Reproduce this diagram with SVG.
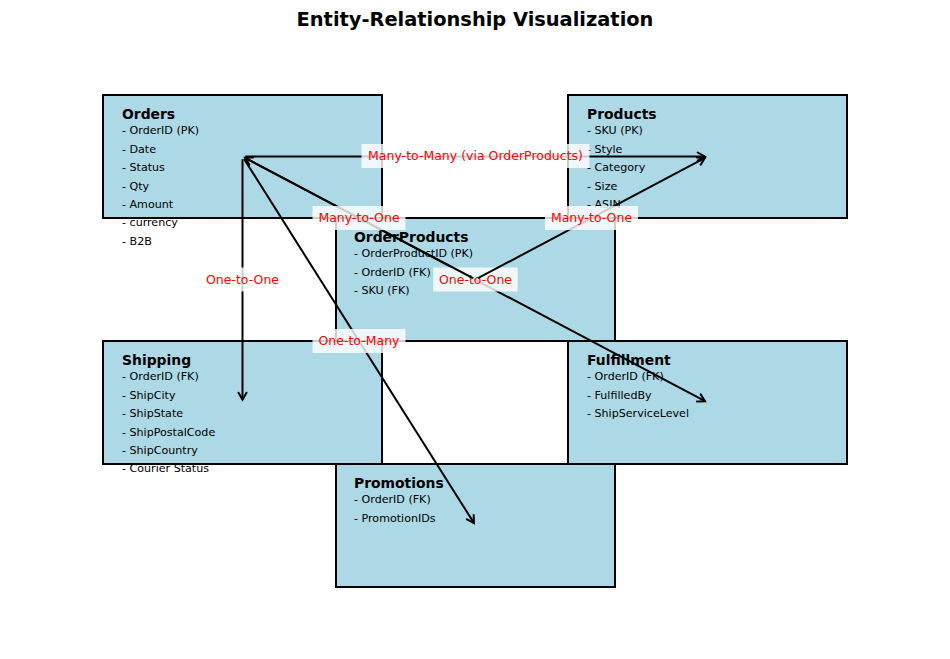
<svg xmlns="http://www.w3.org/2000/svg" width="950" height="659" viewBox="0 0 950 659">
<defs>
<marker id="arr" markerUnits="userSpaceOnUse" markerWidth="12" markerHeight="12" refX="10" refY="6" orient="auto" overflow="visible">
<path d="M3,2 L10,6 L3,10" fill="none" stroke="#000" stroke-width="2" stroke-linecap="round" stroke-linejoin="miter"/>
</marker>
<style>
.box{fill:#ADD8E6;stroke:#000;stroke-width:2}
.name{font-family:"DejaVu Sans","Liberation Sans",sans-serif;font-weight:bold;font-size:13.9px;fill:#000}
.attr{font-family:"DejaVu Sans","Liberation Sans",sans-serif;font-size:11.1px;fill:#000}
.title{font-family:"DejaVu Sans","Liberation Sans",sans-serif;font-weight:bold;font-size:19.4px;fill:#000}
.edge{stroke:#000;stroke-width:2;fill:none;marker-end:url(#arr)}
.lbox{fill:#fff;fill-opacity:0.8;stroke:none}
.lbl{font-family:"DejaVu Sans","Liberation Sans",sans-serif;font-size:12.5px;fill:#ff0000;text-anchor:middle}
</style>
</defs>
<rect width="950" height="659" fill="#fff"/>
<text class="title" x="475" y="26" text-anchor="middle">Entity-Relationship Visualization</text>

<g id="orders">
<rect class="box" x="103" y="95" width="279" height="123"/>
<text class="name" x="122" y="118.5">Orders</text>
<text class="attr" x="122" y="134.3">- OrderID (PK)</text>
<text class="attr" x="122" y="152.7">- Date</text>
<text class="attr" x="122" y="171.1">- Status</text>
<text class="attr" x="122" y="189.5">- Qty</text>
<text class="attr" x="122" y="207.9">- Amount</text>
<text class="attr" x="122" y="226.3">- currency</text>
<text class="attr" x="122" y="244.7">- B2B</text>
</g>

<g id="products">
<rect class="box" x="568" y="95" width="279" height="123"/>
<text class="name" x="587" y="118.5">Products</text>
<text class="attr" x="587" y="134.3">- SKU (PK)</text>
<text class="attr" x="587" y="152.7">- Style</text>
<text class="attr" x="587" y="171.1">- Category</text>
<text class="attr" x="587" y="189.5">- Size</text>
<text class="attr" x="587" y="207.9">- ASIN</text>
</g>

<g id="orderproducts">
<rect class="box" x="336" y="218" width="279" height="123"/>
<text class="name" x="354" y="241.5">OrderProducts</text>
<text class="attr" x="354" y="257.3">- OrderProductID (PK)</text>
<text class="attr" x="354" y="275.7">- OrderID (FK)</text>
<text class="attr" x="354" y="294.1">- SKU (FK)</text>
</g>

<g id="shipping">
<rect class="box" x="103" y="341" width="279" height="123"/>
<text class="name" x="122" y="364.5">Shipping</text>
<text class="attr" x="122" y="380.3">- OrderID (FK)</text>
<text class="attr" x="122" y="398.7">- ShipCity</text>
<text class="attr" x="122" y="417.1">- ShipState</text>
<text class="attr" x="122" y="435.5">- ShipPostalCode</text>
<text class="attr" x="122" y="453.9">- ShipCountry</text>
<text class="attr" x="122" y="472.3">- Courier Status</text>
</g>

<g id="fulfillment">
<rect class="box" x="568" y="341" width="279" height="123"/>
<text class="name" x="587" y="364.5">Fulfillment</text>
<text class="attr" x="587" y="380.3">- OrderID (FK)</text>
<text class="attr" x="587" y="398.7">- FulfilledBy</text>
<text class="attr" x="587" y="417.1">- ShipServiceLevel</text>
</g>

<g id="promotions">
<rect class="box" x="336" y="464" width="279" height="123"/>
<text class="name" x="354" y="487.5">Promotions</text>
<text class="attr" x="354" y="503.3">- OrderID (FK)</text>
<text class="attr" x="354" y="521.7">- PromotionIDs</text>
</g>

<g id="connectors">
<g id="e-orders-products">
<line class="edge" x1="245.3" y1="156.5" x2="704.7" y2="156.5"/>
<rect class="lbox" x="361.5" y="144" width="228" height="24"/>
<text class="lbl" x="475.5" y="160">Many-to-Many (via OrderProducts)</text>
</g>
<g id="e-orders-shipping">
<line class="edge" x1="242.5" y1="159.3" x2="242.5" y2="399.7"/>
<rect class="lbox" x="200.3" y="267.5" width="84.5" height="24"/>
<text class="lbl" x="242.5" y="283.5">One-to-One</text>
</g>
<g id="e-orders-fulfillment">
<line class="edge" x1="245" y1="157.8" x2="705" y2="401.2"/>
<rect class="lbox" x="433.2" y="267.5" width="84.5" height="24"/>
<text class="lbl" x="475.5" y="283.5">One-to-One</text>
</g>
<g id="e-orders-promotions">
<line class="edge" x1="244" y1="158.9" x2="474" y2="523.1"/>
<rect class="lbox" x="312.5" y="329" width="93" height="24"/>
<text class="lbl" x="359" y="345">One-to-Many</text>
</g>
<g id="e-orderproducts-orders">
<line class="edge" x1="473" y1="278.2" x2="245" y2="157.8"/>
<rect class="lbox" x="312.5" y="206" width="93" height="24"/>
<text class="lbl" x="359" y="222">Many-to-One</text>
</g>
<g id="e-orderproducts-products">
<line class="edge" x1="478" y1="278.2" x2="705" y2="157.8"/>
<rect class="lbox" x="545" y="206" width="93" height="24"/>
<text class="lbl" x="591.5" y="222">Many-to-One</text>
</g>
</g>
</svg>
